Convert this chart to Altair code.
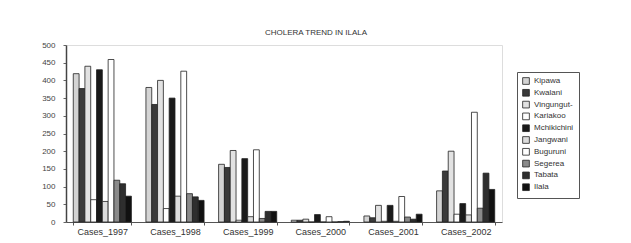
import altair as alt
import pandas as pd

years = ["Cases_1997", "Cases_1998", "Cases_1999", "Cases_2000", "Cases_2001", "Cases_2002"]
wards = ["Kipawa", "Kwalani", "Vingungut-", "Kariakoo", "Mchikichini",
         "Jangwani", "Buguruni", "Segerea", "Tabata", "Ilala"]
values = {
    "Kipawa":      [419, 380, 163, 5, 17, 88],
    "Kwalani":     [377, 332, 154, 5, 12, 144],
    "Vingungut-":  [440, 400, 202, 8, 47, 200],
    "Kariakoo":    [63, 38, 5, 0, 2, 22],
    "Mchikichini": [430, 350, 179, 21, 47, 52],
    "Jangwani":    [58, 73, 15, 0, 2, 20],
    "Buguruni":    [459, 426, 204, 15, 72, 310],
    "Segerea":     [118, 80, 10, 0, 14, 39],
    "Tabata":      [108, 71, 30, 1, 8, 138],
    "Ilala":       [73, 61, 30, 2, 22, 92],
}
fills = ["#d4d4d4", "#3a3a3a", "#e2e2e2", "#ffffff", "#1a1a1a",
         "#dcdcdc", "#ffffff", "#8a8a8a", "#2e2e2e", "#111111"]

rows = []
for w in wards:
    for y, v in zip(years, values[w]):
        rows.append({"year": y, "ward": w, "cases": v})
df = pd.DataFrame(rows)

font = "Liberation Sans"

bars = alt.Chart(df).mark_bar(stroke="#222222", strokeWidth=0.8).encode(
    x=alt.X("year:N", sort=years, title=None,
            scale=alt.Scale(paddingInner=0.2, paddingOuter=0.1),
            axis=alt.Axis(labelAngle=0, labelFontSize=9, labelFont=font,
                          labelColor="#333333", tickBand="extent", tickSize=3,
                          domainColor="#555555", tickColor="#555555", labelPadding=2)),
    xOffset=alt.XOffset("ward:N", sort=wards),
    y=alt.Y("cases:Q", title=None,
            scale=alt.Scale(domain=[0, 500], nice=False),
            axis=alt.Axis(values=list(range(0, 501, 50)), grid=False,
                          labelFontSize=8, labelFont=font, labelColor="#444444",
                          tickSize=3, domainColor="#444444", tickColor="#666666",
                          labelPadding=8, domainWidth=1.5)),
    fill=alt.Fill("ward:N", sort=wards,
                  scale=alt.Scale(domain=wards, range=fills),
                  legend=alt.Legend(title=None, orient="none", legendX=451, legendY=27,
                                    symbolType="square", symbolSize=45,
                                    symbolStrokeColor="#222222", symbolStrokeWidth=0.8,
                                    labelFont=font, labelFontSize=8, labelColor="#333333",
                                    rowPadding=1.8, padding=5, strokeColor="#555555",
                                    fillColor="white")),
)

chart = bars.properties(
    width=436, height=177,
    title=alt.TitleParams("CHOLERA TREND IN ILALA", font=font, fontSize=8,
                          fontWeight="normal", color="#333333", dx=32, offset=4),
    autosize=alt.AutoSizeParams(type="none"),
    padding={"left": 58, "top": 37, "right": 120, "bottom": 18},
).configure_view(stroke=None).configure(background="white")

chart.save("out.html", embed_options={"renderer": "svg", "actions": False})
